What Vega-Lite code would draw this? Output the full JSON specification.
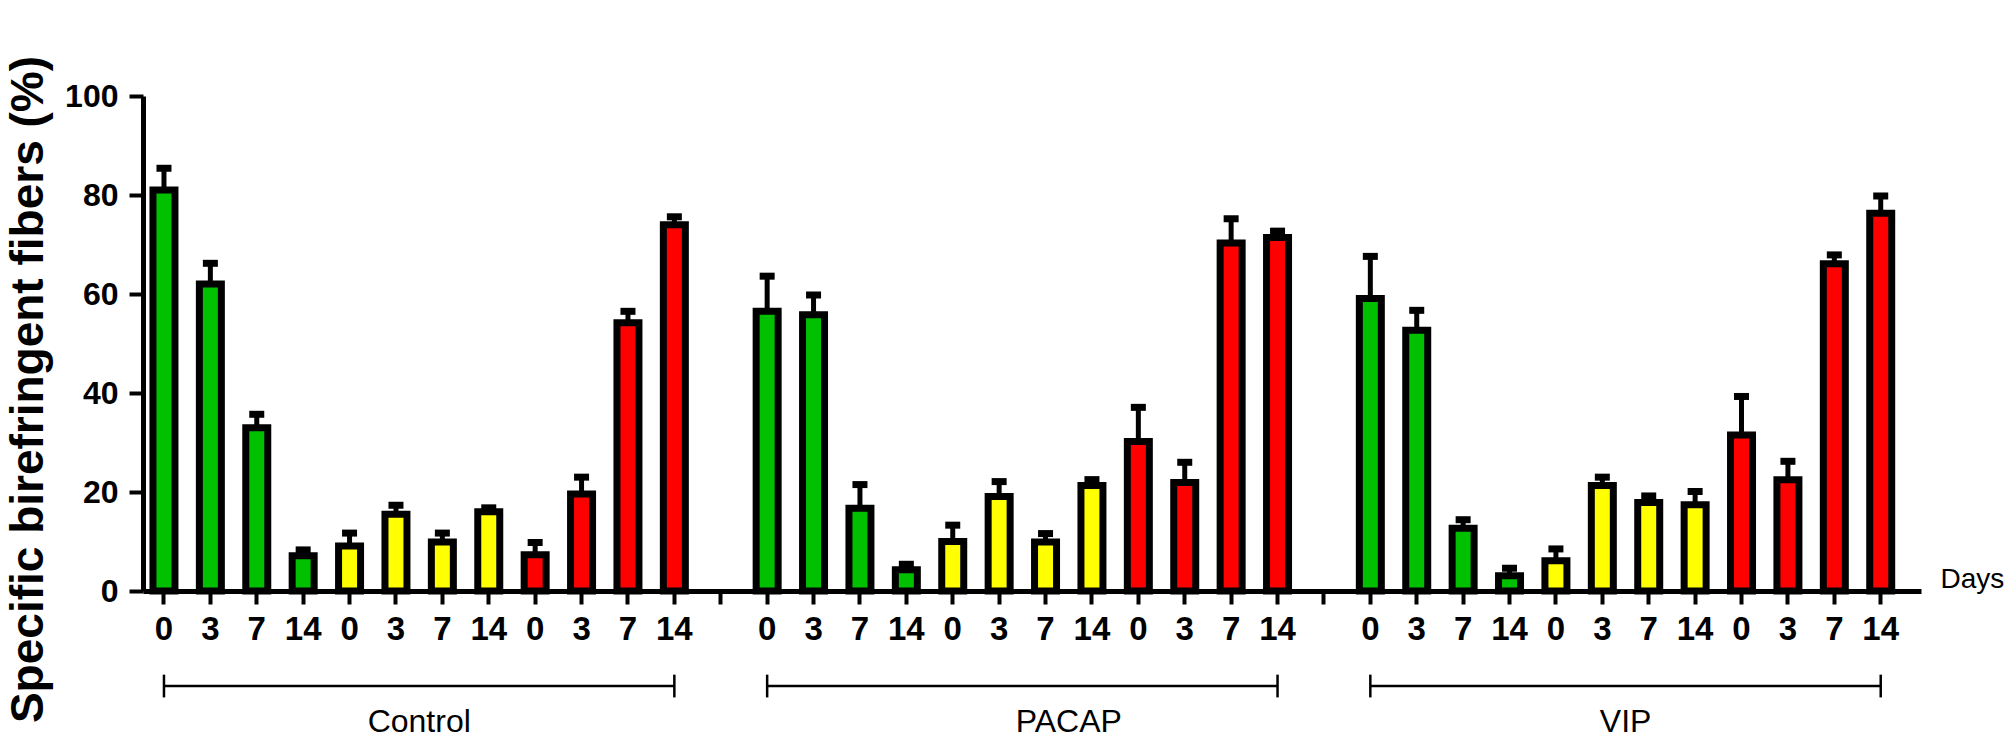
{
  "$schema": "https://vega.github.io/schema/vega-lite/v6.json",
  "description": "Specific birefringent fibers by treatment, stain colour and day",
  "width": 1778,
  "height": 495,
  "autosize": "none",
  "padding": {"left": 143, "top": 96, "right": 87, "bottom": 150},
  "background": "white",
  "datasets": {
    "bars": [
      {"group": "Control", "color": "#00C000", "day": "0", "slot": "Control|green|0", "value": 81.0, "upper": 85.4},
      {"group": "Control", "color": "#00C000", "day": "3", "slot": "Control|green|3", "value": 62.0, "upper": 66.2},
      {"group": "Control", "color": "#00C000", "day": "7", "slot": "Control|green|7", "value": 33.0, "upper": 35.7},
      {"group": "Control", "color": "#00C000", "day": "14", "slot": "Control|green|14", "value": 7.1, "upper": 8.3},
      {"group": "Control", "color": "#FFFF00", "day": "0", "slot": "Control|yellow|0", "value": 9.1, "upper": 11.7},
      {"group": "Control", "color": "#FFFF00", "day": "3", "slot": "Control|yellow|3", "value": 15.5, "upper": 17.3},
      {"group": "Control", "color": "#FFFF00", "day": "7", "slot": "Control|yellow|7", "value": 9.9, "upper": 11.7},
      {"group": "Control", "color": "#FFFF00", "day": "14", "slot": "Control|yellow|14", "value": 16.0, "upper": 16.8},
      {"group": "Control", "color": "#FF0000", "day": "0", "slot": "Control|red|0", "value": 7.3, "upper": 9.8},
      {"group": "Control", "color": "#FF0000", "day": "3", "slot": "Control|red|3", "value": 19.6, "upper": 23.0},
      {"group": "Control", "color": "#FF0000", "day": "7", "slot": "Control|red|7", "value": 54.2, "upper": 56.5},
      {"group": "Control", "color": "#FF0000", "day": "14", "slot": "Control|red|14", "value": 74.0, "upper": 75.6},
      {"group": "PACAP", "color": "#00C000", "day": "0", "slot": "PACAP|green|0", "value": 56.5, "upper": 63.6},
      {"group": "PACAP", "color": "#00C000", "day": "3", "slot": "PACAP|green|3", "value": 55.8, "upper": 59.8},
      {"group": "PACAP", "color": "#00C000", "day": "7", "slot": "PACAP|green|7", "value": 16.7, "upper": 21.5},
      {"group": "PACAP", "color": "#00C000", "day": "14", "slot": "PACAP|green|14", "value": 4.3, "upper": 5.4},
      {"group": "PACAP", "color": "#FFFF00", "day": "0", "slot": "PACAP|yellow|0", "value": 10.0, "upper": 13.3},
      {"group": "PACAP", "color": "#FFFF00", "day": "3", "slot": "PACAP|yellow|3", "value": 19.1, "upper": 22.1},
      {"group": "PACAP", "color": "#FFFF00", "day": "7", "slot": "PACAP|yellow|7", "value": 9.9, "upper": 11.6},
      {"group": "PACAP", "color": "#FFFF00", "day": "14", "slot": "PACAP|yellow|14", "value": 21.3, "upper": 22.5},
      {"group": "PACAP", "color": "#FF0000", "day": "0", "slot": "PACAP|red|0", "value": 30.2, "upper": 37.1},
      {"group": "PACAP", "color": "#FF0000", "day": "3", "slot": "PACAP|red|3", "value": 21.9, "upper": 26.0},
      {"group": "PACAP", "color": "#FF0000", "day": "7", "slot": "PACAP|red|7", "value": 70.3, "upper": 75.2},
      {"group": "PACAP", "color": "#FF0000", "day": "14", "slot": "PACAP|red|14", "value": 71.4, "upper": 72.7},
      {"group": "VIP", "color": "#00C000", "day": "0", "slot": "VIP|green|0", "value": 59.1, "upper": 67.6},
      {"group": "VIP", "color": "#00C000", "day": "3", "slot": "VIP|green|3", "value": 52.7, "upper": 56.7},
      {"group": "VIP", "color": "#00C000", "day": "7", "slot": "VIP|green|7", "value": 12.7, "upper": 14.4},
      {"group": "VIP", "color": "#00C000", "day": "14", "slot": "VIP|green|14", "value": 3.1, "upper": 4.6},
      {"group": "VIP", "color": "#FFFF00", "day": "0", "slot": "VIP|yellow|0", "value": 6.1, "upper": 8.5},
      {"group": "VIP", "color": "#FFFF00", "day": "3", "slot": "VIP|yellow|3", "value": 21.3, "upper": 23.0},
      {"group": "VIP", "color": "#FFFF00", "day": "7", "slot": "VIP|yellow|7", "value": 17.9, "upper": 19.2},
      {"group": "VIP", "color": "#FFFF00", "day": "14", "slot": "VIP|yellow|14", "value": 17.4, "upper": 20.1},
      {"group": "VIP", "color": "#FF0000", "day": "0", "slot": "VIP|red|0", "value": 31.5, "upper": 39.3},
      {"group": "VIP", "color": "#FF0000", "day": "3", "slot": "VIP|red|3", "value": 22.5, "upper": 26.2},
      {"group": "VIP", "color": "#FF0000", "day": "7", "slot": "VIP|red|7", "value": 66.1, "upper": 67.9},
      {"group": "VIP", "color": "#FF0000", "day": "14", "slot": "VIP|red|14", "value": 76.3, "upper": 79.8}
    ],
    "brackets": [
      {"group": "Control", "start": "Control|green|0", "end": "Control|red|14", "anchor": "Control|yellow|3"},
      {"group": "PACAP", "start": "PACAP|green|0", "end": "PACAP|red|14", "anchor": "PACAP|yellow|7"},
      {"group": "VIP", "start": "VIP|green|0", "end": "VIP|red|14", "anchor": "VIP|yellow|3"}
    ]
  },
  "layer": [
    {
      "data": {"name": "bars"},
      "mark": {"type": "bar", "stroke": "black", "strokeWidth": 7},
      "encoding": {
        "x": {
          "field": "slot",
          "type": "nominal",
          "sort": null,
          "scale": {
            "domain": [
              "Control|green|0", "Control|green|3", "Control|green|7", "Control|green|14",
              "Control|yellow|0", "Control|yellow|3", "Control|yellow|7", "Control|yellow|14",
              "Control|red|0", "Control|red|3", "Control|red|7", "Control|red|14",
              "gap1",
              "PACAP|green|0", "PACAP|green|3", "PACAP|green|7", "PACAP|green|14",
              "PACAP|yellow|0", "PACAP|yellow|3", "PACAP|yellow|7", "PACAP|yellow|14",
              "PACAP|red|0", "PACAP|red|3", "PACAP|red|7", "PACAP|red|14",
              "gap2",
              "VIP|green|0", "VIP|green|3", "VIP|green|7", "VIP|green|14",
              "VIP|yellow|0", "VIP|yellow|3", "VIP|yellow|7", "VIP|yellow|14",
              "VIP|red|0", "VIP|red|3", "VIP|red|7", "VIP|red|14"
            ],
            "paddingInner": 0.526,
            "paddingOuter": 0.423,
            "align": 0.254
          },
          "axis": {
            "title": "Days",
            "titleFont": "Liberation Sans",
            "titleFontSize": 28,
            "titleFontWeight": "normal",
            "titleColor": "black",
            "titleAngle": 0,
            "titleAlign": "left",
            "titleBaseline": "alphabetic",
            "titleX": 1797,
            "titleY": -4,
            "labelExpr": "indexof(datum.value, '|') < 0 ? '' : split(datum.value, '|')[2]",
            "labelAngle": 0,
            "labelFont": "Liberation Sans",
            "labelFontSize": 33,
            "labelFontWeight": "bold",
            "labelColor": "black",
            "labelPadding": 9,
            "labelOverlap": false,
            "domainColor": "black",
            "domainWidth": 5,
            "tickColor": "black",
            "tickWidth": 4,
            "tickSize": 13,
            "grid": false
          }
        },
        "y": {
          "field": "value",
          "type": "quantitative",
          "scale": {"domain": [0, 100], "nice": false},
          "axis": {
            "title": "Specific birefringent fibers (%)",
            "titleFont": "Liberation Sans",
            "titleFontSize": 46,
            "titleFontWeight": "bold",
            "titleColor": "black",
            "titleAngle": 270,
            "titleAlign": "center",
            "titleBaseline": "alphabetic",
            "titleX": -101,
            "titleY": 293,
            "values": [0, 20, 40, 60, 80, 100],
            "labelFont": "Liberation Sans",
            "labelFontSize": 32,
            "labelFontWeight": "bold",
            "labelColor": "black",
            "labelPadding": 11,
            "domainColor": "black",
            "domainWidth": 5,
            "tickColor": "black",
            "tickWidth": 4,
            "tickSize": 14,
            "grid": false
          }
        },
        "fill": {"field": "color", "type": "nominal", "scale": null}
      }
    },
    {
      "data": {"name": "bars"},
      "mark": {"type": "rule", "color": "black", "strokeWidth": 5},
      "encoding": {
        "x": {"field": "slot", "type": "nominal", "sort": null, "bandPosition": 0.5},
        "y": {"field": "value", "type": "quantitative", "scale": {"domain": [0, 100], "nice": false}},
        "y2": {"field": "upper"}
      }
    },
    {
      "data": {"name": "bars"},
      "mark": {"type": "tick", "color": "black", "thickness": 7, "size": 15, "opacity": 1},
      "encoding": {
        "x": {"field": "slot", "type": "nominal", "sort": null},
        "y": {"field": "upper", "type": "quantitative", "scale": {"domain": [0, 100], "nice": false}}
      }
    },
    {
      "data": {"name": "brackets"},
      "mark": {"type": "rule", "color": "black", "strokeWidth": 2.5},
      "encoding": {
        "x": {"field": "start", "type": "nominal", "sort": null, "bandPosition": 0.5},
        "x2": {"field": "end", "bandPosition": 0.5},
        "y": {"datum": -19.2, "type": "quantitative", "scale": {"domain": [0, 100], "nice": false}}
      }
    },
    {
      "data": {"name": "brackets"},
      "mark": {"type": "rule", "color": "black", "strokeWidth": 2.5},
      "encoding": {
        "x": {"field": "start", "type": "nominal", "sort": null, "bandPosition": 0.5},
        "y": {"datum": -16.9, "type": "quantitative", "scale": {"domain": [0, 100], "nice": false}},
        "y2": {"datum": -21.5}
      }
    },
    {
      "data": {"name": "brackets"},
      "mark": {"type": "rule", "color": "black", "strokeWidth": 2.5},
      "encoding": {
        "x": {"field": "end", "type": "nominal", "sort": null, "bandPosition": 0.5},
        "y": {"datum": -16.9, "type": "quantitative", "scale": {"domain": [0, 100], "nice": false}},
        "y2": {"datum": -21.5}
      }
    },
    {
      "data": {"name": "brackets"},
      "mark": {"type": "text", "font": "Liberation Sans", "fontSize": 32, "color": "black", "align": "center", "baseline": "alphabetic"},
      "encoding": {
        "x": {"field": "anchor", "type": "nominal", "sort": null, "bandPosition": 1.558},
        "y": {"datum": -28.5, "type": "quantitative", "scale": {"domain": [0, 100], "nice": false}},
        "text": {"field": "group"}
      }
    }
  ],
  "config": {
    "view": {"stroke": null},
    "font": "Liberation Sans"
  }
}
